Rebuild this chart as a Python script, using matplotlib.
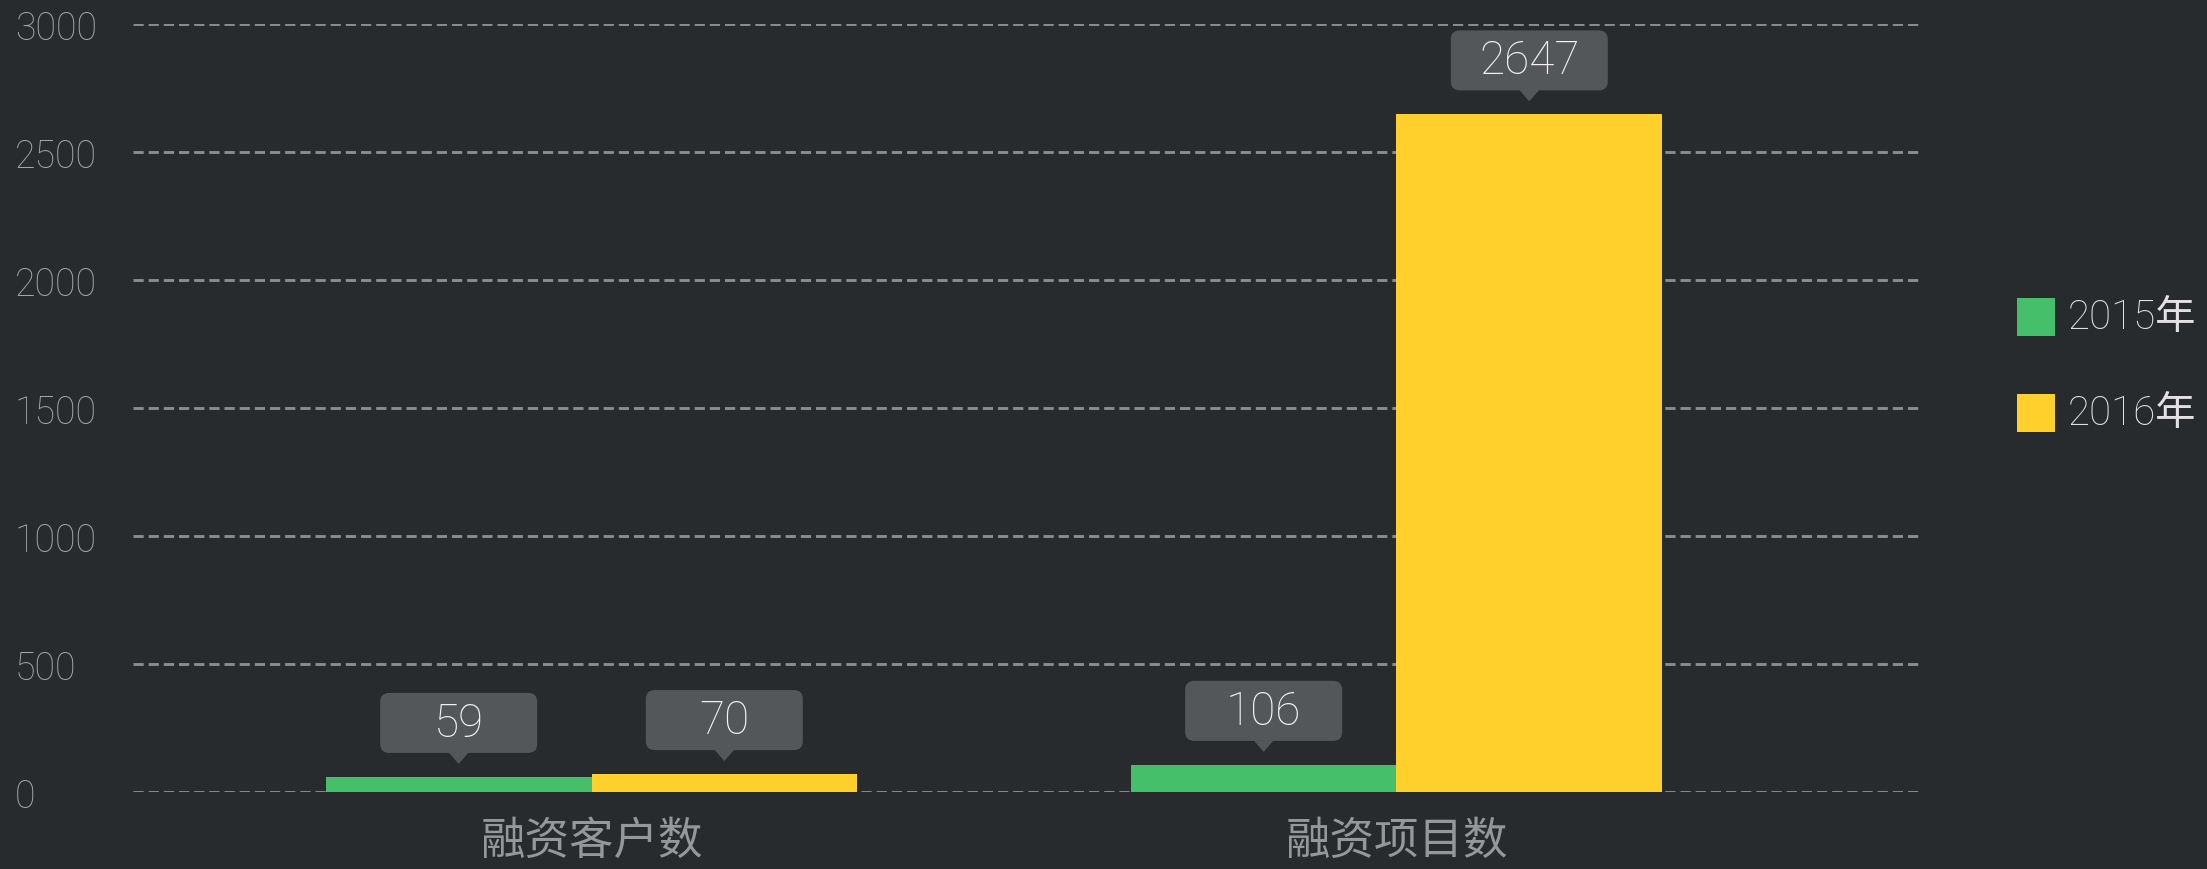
import matplotlib
matplotlib.use("Agg")
import matplotlib.pyplot as plt
import matplotlib.transforms as mtransforms
from matplotlib.patches import FancyBboxPatch, Polygon, Rectangle
import numpy as np

categories = ["融资客户数", "融资项目数"]
series_names = ["2015年", "2016年"]
values_2015 = [59, 106]
values_2016 = [70, 2647]
y_ticks = [0, 500, 1000, 1500, 2000, 2500, 3000]

BG = "#282b2e"
GREEN = "#45bf6a"
YELLOW = "#ffcf2b"
GRID = "#8a8c8e"
TICK = "#a3a5a8"
BOX = "#54575a"

plt.rcParams["font.family"] = ["Roboto", "Noto Sans CJK SC", "DejaVu Sans"]
plt.rcParams["font.weight"] = "light"

W, H = 2207, 870
fig = plt.figure(figsize=(W / 100, H / 100), dpi=100, facecolor=BG)
ax = fig.add_axes([133 / W, (H - 793) / H, (1921 - 133) / W, (793 - 25) / H])
ax.set_facecolor(BG)

x = np.arange(len(categories))
bw = 0.33
bars15 = ax.bar(x - bw / 2, values_2015, bw, color=GREEN, zorder=2)
bars16 = ax.bar(x + bw / 2, values_2016, bw, color=YELLOW, zorder=2)

ax.set_xlim(-0.5696, 1.6516)
ax.set_ylim(0, 3000)
ax.set_yticks(y_ticks)
ax.set_yticklabels([str(t) for t in y_ticks])
ax.set_xticks(x)
ax.set_xticklabels(categories)

ax.grid(axis="y", color=GRID, linewidth=2.1, linestyle=(0, (3.5, 1.7)), zorder=0)
ax.grid(axis="x", visible=False)
for s in ax.spines.values():
    s.set_visible(False)

ax.tick_params(axis="y", length=0, pad=85, labelsize=27, labelcolor=TICK)
ax.tick_params(axis="x", length=0, pad=20, labelsize=32, labelcolor="#95979a")
for lab in ax.get_yticklabels():
    lab.set_ha("left")

# callout labels above bars
for bars in (bars15, bars16):
    for rect in bars:
        xc = rect.get_x() + rect.get_width() / 2
        v = rect.get_height()
        trans = mtransforms.IdentityTransform() + mtransforms.ScaledTranslation(xc, v, ax.transData)
        box = FancyBboxPatch((-78.5, 24), 157, 60, boxstyle="round,pad=0,rounding_size=9",
                             facecolor=BOX, edgecolor="none", transform=trans, zorder=3)
        ax.add_patch(box)
        tri = Polygon([(-10, 24.5), (10, 24.5), (0, 13)], closed=True, facecolor=BOX,
                      edgecolor="none", transform=trans, zorder=3)
        ax.add_patch(tri)
        ax.text(0, 54, str(int(v)), transform=trans, ha="center", va="center",
                fontsize=33, color="#f2f2f2", zorder=4)

# legend
for i, (name, col) in enumerate(zip(series_names, [GREEN, YELLOW])):
    y0 = 299 + i * 96
    fig.add_artist(Rectangle((2017 / W, (H - y0 - 38) / H), 38 / W, 38 / H,
                             transform=fig.transFigure, facecolor=col, edgecolor="none"))
    fig.text(2068 / W, (H - y0 - 19) / H, name, ha="left", va="center",
             fontsize=29, color="#e2e2e2")

fig.savefig("out.png", dpi=100, facecolor=BG)
